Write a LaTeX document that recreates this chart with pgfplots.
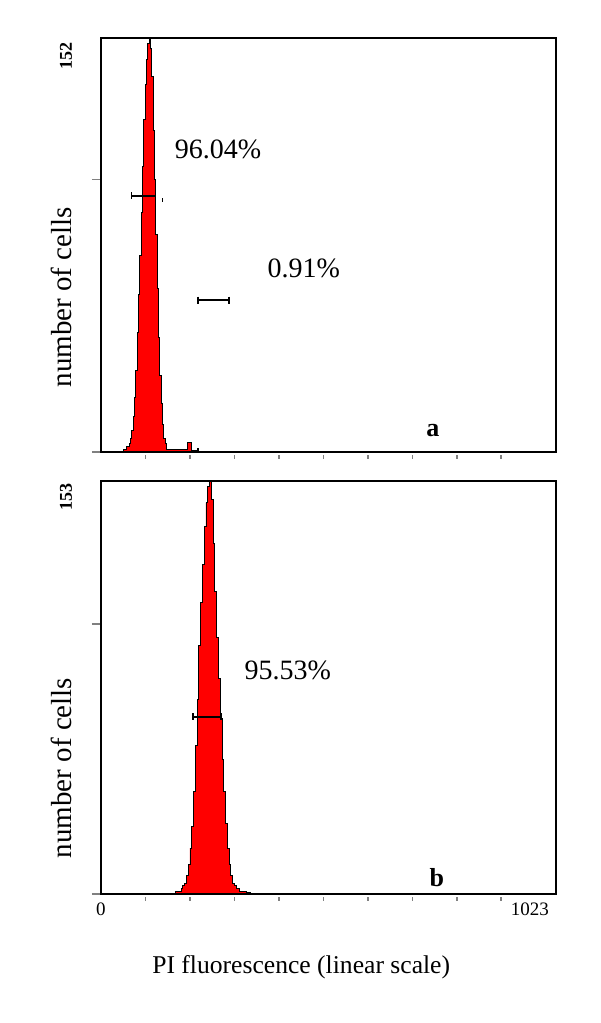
\documentclass[border=0pt]{standalone}
\usepackage{fontspec}
\setmainfont{Liberation Serif}
\usepackage{pgfplots}
\pgfplotsset{compat=1.18}

% step histograms, bin left edge / count
\pgfplotstableread{
x y
51 1
54 1
57 2
60 2
63 3
66 5
69 8
72 13
75 20
78 30
81 44
84 58
87 72
90 88
93 105
96 122
99 135
102 144
105 150
108 152
111 148
114 138
117 118
120 100
123 80
126 60
129 42
132 28
135 18
138 10
141 5
144 3
147 1
150 0.8
195 3.5
204 0.6
216 1.2
220 0
}\histA

\pgfplotstableread{
x y
168 1
172 1
176 1
180 2
184 3
188 4
192 7
196 11
200 17
204 25
208 38
212 55
216 72
220 92
224 108
228 122
232 136
236 145
240 151
244 153
248 146
252 130
256 112
260 95
264 80
268 65
272 50
276 38
280 26
284 17
288 11
292 7
296 4
300 3
304 2
308 2
312 1
316 1
320 1
324 1
328 0.5
332 0.5
336 0
}\histB

\pgfplotsset{
  flow/.style={
    scale only axis, width=227.5pt,
    xmin=0, xmax=1023, ymin=0,
    clip=false,
    axis line style={line width=0.75pt},
    tick align=outside,
    tick pos=left,
    major tick length=4.5pt,
    xtick={100,200,...,900}, xticklabels={},
    ytick={0,100}, yticklabels={},
    xtick style={/pgfplots/major tick length=1.8pt, yshift=-1.5pt, line width=0.8pt},
    ytick style={line width=0.7pt},
    axis on top,
    ylabel={number of cells},
    label style={font=\fontsize{14.5}{16}\selectfont},
  },
  hist/.style={const plot, fill=red, draw=black, line width=0.45pt},
  gate/.style={black, line width=0.6pt, mark=|, mark size=1.75pt, mark options={solid}},
}
\tikzset{pct/.style={font=\fontsize{14}{16}\selectfont},
  maxlab/.style={rotate=90, anchor=east, inner sep=0pt, font=\fontsize{9}{10}\selectfont\bfseries}}

\begin{document}
\begin{tikzpicture}
\path (0,0) rectangle (300pt,511.5pt);

\begin{axis}[flow, at={(50.5pt,285.5pt)}, anchor=south west, height=207pt, ymax=152,
  ylabel style={at={(axis description cs:-0.086,0.374)}, anchor=center}]
\addplot[hist] table {\histA} \closedcycle;
\addplot[gate] coordinates {(69,94) (123,94)};
\addplot[gate] coordinates {(218,55.8) (288,55.8)};
\addplot[only marks, mark=|, mark size=0.8pt, black] coordinates {(139,92.5)};
\node[pct] at (axis cs:263,111) {96.04\%};
\node[pct] at (axis cs:456,67.5) {0.91\%};
\node[font=\fontsize{13}{15}\selectfont\bfseries] at (axis cs:746,8) {a};
\node[maxlab] at (axis description cs:-0.077,0.99) {152};
\end{axis}

\begin{axis}[flow, at={(50.5pt,64.5pt)}, anchor=south west, height=206.5pt, ymax=153,
  ylabel style={at={(axis description cs:-0.086,0.305)}, anchor=center},
  xlabel={PI fluorescence (linear scale)},
  xlabel style={at={(axis description cs:0.44,-0.177)}, anchor=center, font=\fontsize{12.8}{15}\selectfont}]
\addplot[hist] table {\histB} \closedcycle;
\addplot[gate] coordinates {(207,65.6) (270,65.6)};
\node[pct] at (axis cs:420,83) {95.53\%};
\node[font=\fontsize{13}{15}\selectfont\bfseries] at (axis cs:755,6) {b};
\node[maxlab] at (axis description cs:-0.077,0.995) {153};
\node[font=\fontsize{9.5}{10}\selectfont] at (axis cs:0,-5.5) {0};
\node[font=\fontsize{9.5}{10}\selectfont] at (axis cs:964,-5.5) {1023};
\end{axis}
\end{tikzpicture}
\end{document}
